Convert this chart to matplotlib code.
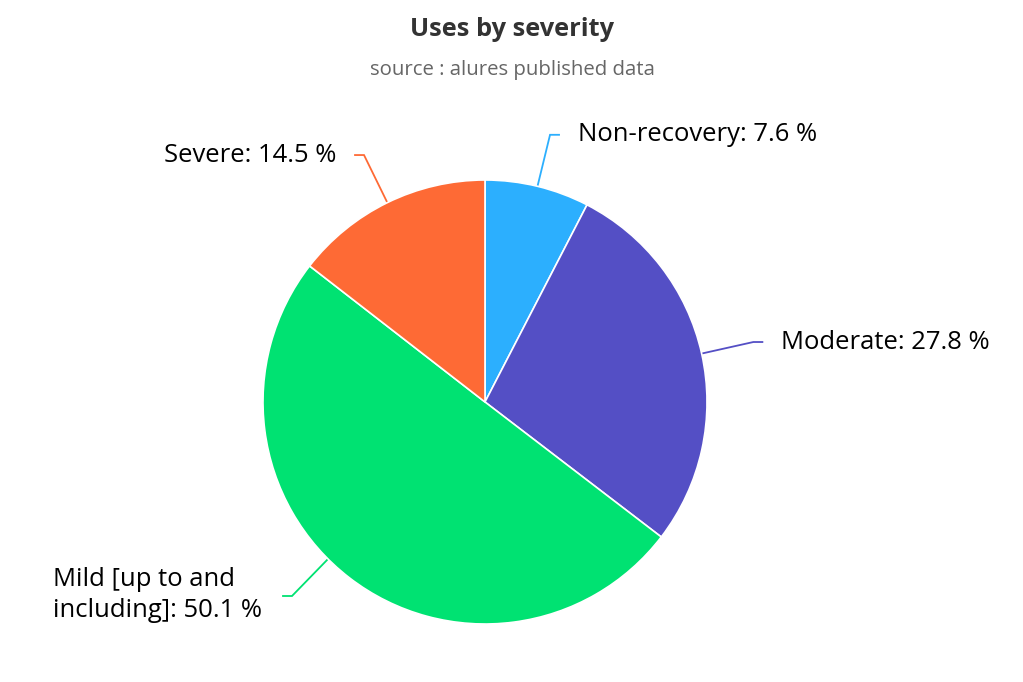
import numpy as np
import matplotlib
matplotlib.use("Agg")
import matplotlib.pyplot as plt

# ---- data ----
categories = ["Non-recovery", "Moderate", "Mild [up to and\nincluding]", "Severe"]
values = [7.6, 27.8, 50.1, 14.5]
colors = ["#2caffe", "#544fc5", "#00e272", "#fe6a35"]
title = "Uses by severity"
subtitle = "source : alures published data"

W, H = 1023, 682
fig = plt.figure(figsize=(W / 100, H / 100), dpi=100)
ax = fig.add_axes([0, 0, 1, 1])

cx, cy, R = 485, 402, 222
# y axis runs downward (pixel-like); clockwise visually from 12 o'clock
wedges, _ = ax.pie(values, colors=colors, startangle=-90, counterclock=True,
                   center=(cx, cy), radius=R,
                   wedgeprops=dict(edgecolor="white", linewidth=1.2, joinstyle="round"))
ax.set_xlim(0, W)
ax.set_ylim(H, 0)
ax.set_aspect("equal")
ax.set_axis_off()

FONT = "Open Sans"
renderer = fig.canvas.get_renderer()

def fit_size(text, target_px, weight="normal", base=16):
    t = fig.text(0, 0, text, fontsize=base, family=FONT, weight=weight)
    w = t.get_window_extent(renderer).width
    t.remove()
    return base * target_px / w

title_fs = fit_size(title, 204, weight="bold")
sub_fs = fit_size(subtitle, 286)
lab_fs = fit_size("Moderate: 27.8 %", 209)

ax.text(512, 29, title, ha="center", va="center", fontsize=title_fs,
        family=FONT, weight="bold", color="#333333")
ax.text(512, 70, subtitle, ha="center", va="center", fontsize=sub_fs,
        family=FONT, color="#666666")

total = sum(values)
cum = np.cumsum([0] + values[:-1])
mids = [(c + v / 2) / total * 360 for c, v in zip(cum, values)]

def pt(ang, r):
    a = np.deg2rad(ang)
    return cx + r * np.sin(a), cy - r * np.cos(a)

# connector layout: (start angle on slice edge, knee point, side)
knee_r = 275
layouts = []
for i, m in enumerate(mids):
    start_ang = m
    knee = pt(m, knee_r)
    if i == 2:  # Mild label is pushed down by layout
        start_ang = 225
        knee = (292, 596)
    side = 1 if np.sin(np.deg2rad(m)) > 0 else -1
    layouts.append((start_ang, knee, side))

for i, (cat, v, col) in enumerate(zip(categories, values, colors)):
    start_ang, knee, side = layouts[i]
    s = pt(start_ang, R)
    end = (knee[0] + side * 9, knee[1])
    ax.plot([s[0], knee[0], end[0]], [s[1], knee[1], end[1]], color=col,
            lw=1.3, solid_joinstyle="miter", zorder=0)
    label = f"{cat}: {v} %"
    if i == 2:
        ax.text(53, knee[1] - 1, label, ha="left", va="center", fontsize=lab_fs,
                family=FONT, color="#000000", linespacing=1.3)
    else:
        tx = end[0] + side * 19
        ax.text(tx, knee[1], label, ha="left" if side > 0 else "right",
                va="center", fontsize=lab_fs, family=FONT, color="#000000")

fig.savefig("out.png", dpi=100, facecolor="white")
